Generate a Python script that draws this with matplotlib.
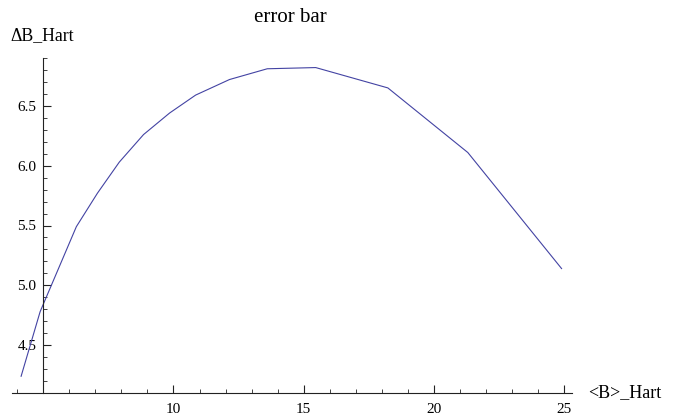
import matplotlib
matplotlib.use("Agg")
import matplotlib.pyplot as plt
from matplotlib.ticker import MultipleLocator

# data
b_mean = [4.15, 4.88, 6.27, 7.08, 7.92, 8.85, 9.85, 10.85, 12.15, 13.6, 15.46, 18.23, 21.3, 24.9]
delta_b = [4.24, 4.78, 5.49, 5.77, 6.03, 6.26, 6.44, 6.59, 6.72, 6.81, 6.82, 6.65, 6.11, 5.14]

x_ticks = [10, 15, 20, 25]
y_ticks = [4.5, 5.0, 5.5, 6.0, 6.5]

plt.rcParams["font.family"] = ["Liberation Serif", "DejaVu Serif"]

fig = plt.figure(figsize=(6.76, 4.18), dpi=100)
ax = fig.add_axes([12 / 676, 25 / 418, 560 / 676, 335 / 418])

ax.plot(b_mean, delta_b, color="#4343a3", linewidth=0.8)

ax.set_xlim(3.8, 25.3)
ax.set_ylim(4.1, 6.9)

# Mathematica-style axes crossing at (5, 4.1)
ax.spines["top"].set_visible(False)
ax.spines["right"].set_visible(False)
ax.spines["left"].set_position(("data", 5))
ax.spines["bottom"].set_position(("data", 4.1))
for s in ("left", "bottom"):
    ax.spines[s].set_linewidth(0.8)
    ax.spines[s].set_color("#222222")

ax.set_xticks(x_ticks)
ax.set_xticklabels([str(t) for t in x_ticks])
ax.set_yticks(y_ticks)
ax.set_yticklabels([f"{t:.1f}" for t in y_ticks])
ax.xaxis.set_minor_locator(MultipleLocator(1))
ax.yaxis.set_minor_locator(MultipleLocator(0.1))

ax.tick_params(axis="both", which="major", direction="in", length=6, width=0.8,
               labelsize=11, color="#222222")
ax.tick_params(axis="both", which="minor", direction="in", length=3, width=0.6,
               color="#222222")
ax.tick_params(axis="x", pad=7)
ax.tick_params(axis="y", pad=5)

fig.text(290 / 676, 1 - 17 / 418, "error bar", ha="center", va="center", fontsize=15)
fig.text(10 / 676, 1 - 36 / 418, "ΔB_Hart", ha="left", va="center", fontsize=12.8)
fig.text(588 / 676, 1 - 393 / 418, "<B>_Hart", ha="left", va="center", fontsize=13)

fig.savefig("out.png", dpi=100)
